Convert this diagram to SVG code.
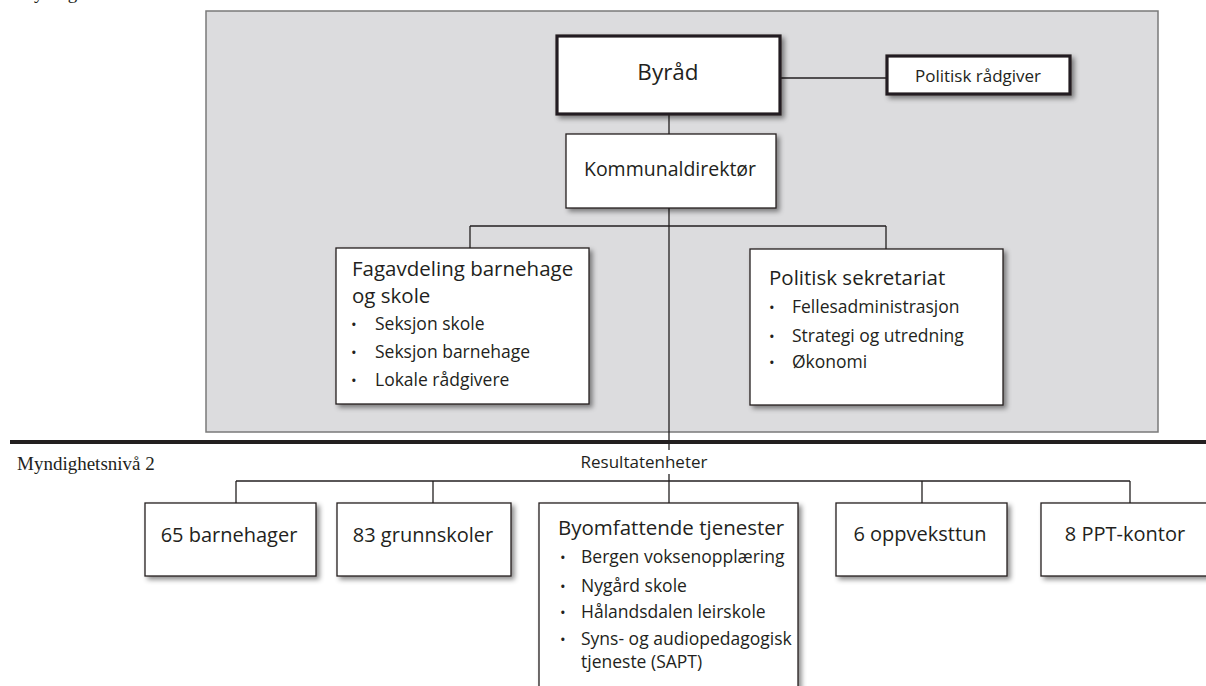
<svg xmlns="http://www.w3.org/2000/svg" width="1206" height="686" viewBox="0 0 1206 686">
<defs>
<filter id="sh" x="-10%" y="-10%" width="130%" height="140%">
<feDropShadow dx="3" dy="3" stdDeviation="2.5" flood-color="#000" flood-opacity="0.45"/>
</filter>
<style>
text{font-family:"Open Sans","Noto Sans",sans-serif;fill:#231f20}
.serif{font-family:"Liberation Serif","Times New Roman",serif}
.box{fill:#fff;stroke:#231f20;stroke-width:1.3;filter:url(#sh)}
.bold{fill:#fff;stroke:#231f20;stroke-width:3.2;filter:url(#sh)}
.ln{stroke:#231f20;stroke-width:1.3;fill:none}
.t1{font-size:20.5px}
.t2{font-size:17.5px}
.bul{font-size:15px}
</style>
</defs>
<rect width="1206" height="686" fill="#fff"/>
<text class="serif" x="17" y="-1" font-size="19">Myndighetsnivå 1</text>
<rect id="panel" x="206" y="11" width="952" height="421" fill="#dcdcde" stroke="#7a7a7a" stroke-width="1.5"/>
<rect x="10" y="440" width="1196" height="4" fill="#231f20"/>
<text class="serif" x="17" y="470" font-size="19">Myndighetsnivå 2</text>

<g id="connectors">
<line class="ln" x1="780" y1="78" x2="887" y2="78"/>
<line class="ln" x1="669" y1="114" x2="669" y2="134"/>
<line class="ln" x1="669" y1="208" x2="669" y2="450"/>
<line class="ln" x1="470" y1="226" x2="886" y2="226"/>
<line class="ln" x1="470" y1="226" x2="470" y2="248"/>
<line class="ln" x1="886" y1="226" x2="886" y2="249"/>
<line class="ln" x1="669" y1="474" x2="669" y2="503"/>
<line class="ln" x1="236" y1="481" x2="1130" y2="481"/>
<line class="ln" x1="236" y1="481" x2="236" y2="503"/>
<line class="ln" x1="433" y1="481" x2="433" y2="503"/>
<line class="ln" x1="922" y1="481" x2="922" y2="503"/>
<line class="ln" x1="1130" y1="481" x2="1130" y2="503"/>
</g>

<g id="byrad">
<rect class="bold" x="557" y="36" width="223" height="78"/>
<text x="668" y="80" font-size="22.5" text-anchor="middle">Byråd</text>
</g>
<g id="politisk-radgiver">
<rect class="bold" x="887" y="56" width="183" height="38"/>
<text x="978" y="82" font-size="17" text-anchor="middle">Politisk rådgiver</text>
</g>
<g id="kommunaldirektor">
<rect class="box" x="566" y="134" width="210" height="74"/>
<text x="670" y="176" font-size="19.5" text-anchor="middle">Kommunaldirektør</text>
</g>
<g id="fagavdeling">
<rect class="box" x="336" y="248" width="253" height="156"/>
<text class="t1" x="352" y="276">Fagavdeling barnehage</text>
<text class="t1" x="352" y="303">og skole</text>
<text class="bul" x="351" y="330">•</text><text class="t2" x="375" y="330">Seksjon skole</text>
<text class="bul" x="351" y="358">•</text><text class="t2" x="375" y="358">Seksjon barnehage</text>
<text class="bul" x="351" y="386">•</text><text class="t2" x="375" y="386">Lokale rådgivere</text>
</g>
<g id="politisk-sekretariat">
<rect class="box" x="750" y="249" width="253" height="156"/>
<text class="t1" x="769" y="285">Politisk sekretariat</text>
<text class="bul" x="769" y="313">•</text><text class="t2" x="792" y="313">Fellesadministrasjon</text>
<text class="bul" x="769" y="342">•</text><text class="t2" x="792" y="342">Strategi og utredning</text>
<text class="bul" x="769" y="368">•</text><text class="t2" x="792" y="368">Økonomi</text>
</g>
<g id="resultatenheter">
<text x="644" y="468" font-size="17" text-anchor="middle">Resultatenheter</text>
</g>
<g id="barnehager">
<rect class="box" x="145" y="503" width="171" height="73"/>
<text x="229" y="542" font-size="20" text-anchor="middle">65 barnehager</text>
</g>
<g id="grunnskoler">
<rect class="box" x="337" y="503" width="174" height="73"/>
<text x="423" y="542" font-size="20" text-anchor="middle">83 grunnskoler</text>
</g>
<g id="byomfattende">
<rect class="box" x="539" y="503" width="259" height="200"/>
<text class="t1" x="558" y="535">Byomfattende tjenester</text>
<text class="bul" x="560" y="563">•</text><text class="t2" x="581" y="563">Bergen voksenopplæring</text>
<text class="bul" x="560" y="592">•</text><text class="t2" x="581" y="592">Nygård skole</text>
<text class="bul" x="560" y="618">•</text><text class="t2" x="581" y="618">Hålandsdalen leirskole</text>
<text class="bul" x="560" y="645">•</text><text class="t2" x="581" y="645">Syns- og audiopedagogisk</text>
<text class="t2" x="581" y="668">tjeneste (SAPT)</text>
</g>
<g id="oppveksttun">
<rect class="box" x="836" y="503" width="171" height="73"/>
<text x="920" y="541" font-size="20" text-anchor="middle">6 oppveksttun</text>
</g>
<g id="ppt-kontor">
<rect class="box" x="1041" y="503" width="180" height="73"/>
<text x="1125" y="541" font-size="20" text-anchor="middle">8 PPT-kontor</text>
</g>
</svg>
